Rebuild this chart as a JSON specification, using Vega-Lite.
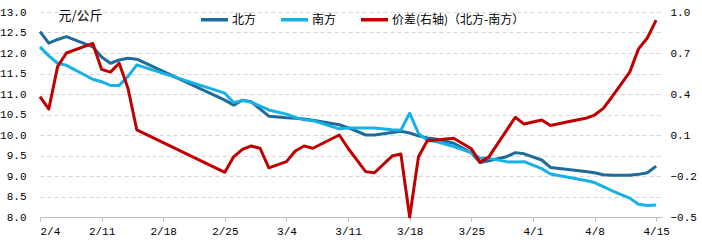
{
  "$schema": "https://vega.github.io/schema/vega-lite/v6.json",
  "width": 622,
  "height": 205,
  "autosize": "none",
  "padding": {"left": 40, "right": 40, "top": 12, "bottom": 33},
  "background": "white",
  "config": {
    "view": {"stroke": null},
    "font": "Noto Sans CJK SC"
  },
  "datasets": {
    "price": [
      {"date": "2025-02-04", "s": "北方", "v": 12.52},
      {"date": "2025-02-05", "s": "北方", "v": 12.24},
      {"date": "2025-02-06", "s": "北方", "v": 12.33},
      {"date": "2025-02-07", "s": "北方", "v": 12.40},
      {"date": "2025-02-10", "s": "北方", "v": 12.15},
      {"date": "2025-02-11", "s": "北方", "v": 11.90},
      {"date": "2025-02-12", "s": "北方", "v": 11.75},
      {"date": "2025-02-13", "s": "北方", "v": 11.83},
      {"date": "2025-02-14", "s": "北方", "v": 11.87},
      {"date": "2025-02-15", "s": "北方", "v": 11.85},
      {"date": "2025-02-25", "s": "北方", "v": 10.85},
      {"date": "2025-02-26", "s": "北方", "v": 10.73},
      {"date": "2025-02-27", "s": "北方", "v": 10.85},
      {"date": "2025-02-28", "s": "北方", "v": 10.81},
      {"date": "2025-03-02", "s": "北方", "v": 10.46},
      {"date": "2025-03-04", "s": "北方", "v": 10.42},
      {"date": "2025-03-05", "s": "北方", "v": 10.41},
      {"date": "2025-03-06", "s": "北方", "v": 10.39},
      {"date": "2025-03-07", "s": "北方", "v": 10.36},
      {"date": "2025-03-10", "s": "北方", "v": 10.25},
      {"date": "2025-03-11", "s": "北方", "v": 10.18},
      {"date": "2025-03-13", "s": "北方", "v": 10.00},
      {"date": "2025-03-14", "s": "北方", "v": 10.00},
      {"date": "2025-03-16", "s": "北方", "v": 10.06},
      {"date": "2025-03-17", "s": "北方", "v": 10.09},
      {"date": "2025-03-18", "s": "北方", "v": 10.05},
      {"date": "2025-03-19", "s": "北方", "v": 9.98},
      {"date": "2025-03-20", "s": "北方", "v": 9.93},
      {"date": "2025-03-21", "s": "北方", "v": 9.90},
      {"date": "2025-03-23", "s": "北方", "v": 9.80},
      {"date": "2025-03-25", "s": "北方", "v": 9.57},
      {"date": "2025-03-26", "s": "北方", "v": 9.33},
      {"date": "2025-03-27", "s": "北方", "v": 9.37},
      {"date": "2025-03-29", "s": "北方", "v": 9.47},
      {"date": "2025-03-30", "s": "北方", "v": 9.57},
      {"date": "2025-03-31", "s": "北方", "v": 9.54},
      {"date": "2025-04-02", "s": "北方", "v": 9.39},
      {"date": "2025-04-03", "s": "北方", "v": 9.21},
      {"date": "2025-04-05", "s": "北方", "v": 9.16},
      {"date": "2025-04-07", "s": "北方", "v": 9.11},
      {"date": "2025-04-08", "s": "北方", "v": 9.08},
      {"date": "2025-04-09", "s": "北方", "v": 9.03},
      {"date": "2025-04-10", "s": "北方", "v": 9.02},
      {"date": "2025-04-12", "s": "北方", "v": 9.02},
      {"date": "2025-04-13", "s": "北方", "v": 9.04},
      {"date": "2025-04-14", "s": "北方", "v": 9.08},
      {"date": "2025-04-15", "s": "北方", "v": 9.24},

      {"date": "2025-02-04", "s": "南方", "v": 12.15},
      {"date": "2025-02-05", "s": "南方", "v": 11.93},
      {"date": "2025-02-06", "s": "南方", "v": 11.75},
      {"date": "2025-02-07", "s": "南方", "v": 11.70},
      {"date": "2025-02-10", "s": "南方", "v": 11.36},
      {"date": "2025-02-11", "s": "南方", "v": 11.30},
      {"date": "2025-02-12", "s": "南方", "v": 11.21},
      {"date": "2025-02-13", "s": "南方", "v": 11.21},
      {"date": "2025-02-14", "s": "南方", "v": 11.43},
      {"date": "2025-02-15", "s": "南方", "v": 11.71},
      {"date": "2025-02-25", "s": "南方", "v": 11.02},
      {"date": "2025-02-26", "s": "南方", "v": 10.79},
      {"date": "2025-02-27", "s": "南方", "v": 10.84},
      {"date": "2025-02-28", "s": "南方", "v": 10.80},
      {"date": "2025-03-02", "s": "南方", "v": 10.61},
      {"date": "2025-03-04", "s": "南方", "v": 10.51},
      {"date": "2025-03-05", "s": "南方", "v": 10.43},
      {"date": "2025-03-06", "s": "南方", "v": 10.37},
      {"date": "2025-03-07", "s": "南方", "v": 10.35},
      {"date": "2025-03-10", "s": "南方", "v": 10.15},
      {"date": "2025-03-11", "s": "南方", "v": 10.17},
      {"date": "2025-03-13", "s": "南方", "v": 10.17},
      {"date": "2025-03-14", "s": "南方", "v": 10.17},
      {"date": "2025-03-16", "s": "南方", "v": 10.13},
      {"date": "2025-03-17", "s": "南方", "v": 10.12},
      {"date": "2025-03-18", "s": "南方", "v": 10.53},
      {"date": "2025-03-19", "s": "南方", "v": 10.04},
      {"date": "2025-03-20", "s": "南方", "v": 9.87},
      {"date": "2025-03-21", "s": "南方", "v": 9.84},
      {"date": "2025-03-23", "s": "南方", "v": 9.72},
      {"date": "2025-03-25", "s": "南方", "v": 9.57},
      {"date": "2025-03-26", "s": "南方", "v": 9.43},
      {"date": "2025-03-27", "s": "南方", "v": 9.43},
      {"date": "2025-03-29", "s": "南方", "v": 9.35},
      {"date": "2025-03-30", "s": "南方", "v": 9.34},
      {"date": "2025-03-31", "s": "南方", "v": 9.35},
      {"date": "2025-04-02", "s": "南方", "v": 9.18},
      {"date": "2025-04-03", "s": "南方", "v": 9.05},
      {"date": "2025-04-05", "s": "南方", "v": 8.97},
      {"date": "2025-04-07", "s": "南方", "v": 8.89},
      {"date": "2025-04-08", "s": "南方", "v": 8.84},
      {"date": "2025-04-09", "s": "南方", "v": 8.74},
      {"date": "2025-04-10", "s": "南方", "v": 8.64},
      {"date": "2025-04-12", "s": "南方", "v": 8.46},
      {"date": "2025-04-13", "s": "南方", "v": 8.31},
      {"date": "2025-04-14", "s": "南方", "v": 8.28},
      {"date": "2025-04-15", "s": "南方", "v": 8.29}
    ],
    "diff": [
      {"date": "2025-02-04", "s": "价差(右轴)（北方-南方）", "v": 0.38},
      {"date": "2025-02-05", "s": "价差(右轴)（北方-南方）", "v": 0.29},
      {"date": "2025-02-06", "s": "价差(右轴)（北方-南方）", "v": 0.60},
      {"date": "2025-02-07", "s": "价差(右轴)（北方-南方）", "v": 0.70},
      {"date": "2025-02-10", "s": "价差(右轴)（北方-南方）", "v": 0.77},
      {"date": "2025-02-11", "s": "价差(右轴)（北方-南方）", "v": 0.58},
      {"date": "2025-02-12", "s": "价差(右轴)（北方-南方）", "v": 0.56},
      {"date": "2025-02-13", "s": "价差(右轴)（北方-南方）", "v": 0.625},
      {"date": "2025-02-14", "s": "价差(右轴)（北方-南方）", "v": 0.44},
      {"date": "2025-02-15", "s": "价差(右轴)（北方-南方）", "v": 0.137},
      {"date": "2025-02-25", "s": "价差(右轴)（北方-南方）", "v": -0.173},
      {"date": "2025-02-26", "s": "价差(右轴)（北方-南方）", "v": -0.06},
      {"date": "2025-02-27", "s": "价差(右轴)（北方-南方）", "v": -0.005},
      {"date": "2025-02-28", "s": "价差(右轴)（北方-南方）", "v": 0.02},
      {"date": "2025-03-01", "s": "价差(右轴)（北方-南方）", "v": 0.003},
      {"date": "2025-03-02", "s": "价差(右轴)（北方-南方）", "v": -0.14},
      {"date": "2025-03-04", "s": "价差(右轴)（北方-南方）", "v": -0.095},
      {"date": "2025-03-05", "s": "价差(右轴)（北方-南方）", "v": -0.017},
      {"date": "2025-03-06", "s": "价差(右轴)（北方-南方）", "v": 0.02},
      {"date": "2025-03-07", "s": "价差(右轴)（北方-南方）", "v": 0.003},
      {"date": "2025-03-10", "s": "价差(右轴)（北方-南方）", "v": 0.10},
      {"date": "2025-03-11", "s": "价差(右轴)（北方-南方）", "v": 0.003},
      {"date": "2025-03-13", "s": "价差(右轴)（北方-南方）", "v": -0.168},
      {"date": "2025-03-14", "s": "价差(右轴)（北方-南方）", "v": -0.176},
      {"date": "2025-03-16", "s": "价差(右轴)（北方-南方）", "v": -0.054},
      {"date": "2025-03-17", "s": "价差(右轴)（北方-南方）", "v": -0.039},
      {"date": "2025-03-18", "s": "价差(右轴)（北方-南方）", "v": -0.50},
      {"date": "2025-03-19", "s": "价差(右轴)（北方-南方）", "v": -0.059},
      {"date": "2025-03-20", "s": "价差(右轴)（北方-南方）", "v": 0.058},
      {"date": "2025-03-21", "s": "价差(右轴)（北方-南方）", "v": 0.063},
      {"date": "2025-03-23", "s": "价差(右轴)（北方-南方）", "v": 0.076},
      {"date": "2025-03-25", "s": "价差(右轴)（北方-南方）", "v": 0.0},
      {"date": "2025-03-26", "s": "价差(右轴)（北方-南方）", "v": -0.10},
      {"date": "2025-03-27", "s": "价差(右轴)（北方-南方）", "v": -0.06},
      {"date": "2025-03-30", "s": "价差(右轴)（北方-南方）", "v": 0.23},
      {"date": "2025-03-31", "s": "价差(右轴)（北方-南方）", "v": 0.18},
      {"date": "2025-04-02", "s": "价差(右轴)（北方-南方）", "v": 0.21},
      {"date": "2025-04-03", "s": "价差(右轴)（北方-南方）", "v": 0.17},
      {"date": "2025-04-05", "s": "价差(右轴)（北方-南方）", "v": 0.197},
      {"date": "2025-04-07", "s": "价差(右轴)（北方-南方）", "v": 0.222},
      {"date": "2025-04-08", "s": "价差(右轴)（北方-南方）", "v": 0.246},
      {"date": "2025-04-09", "s": "价差(右轴)（北方-南方）", "v": 0.295},
      {"date": "2025-04-10", "s": "价差(右轴)（北方-南方）", "v": 0.38},
      {"date": "2025-04-12", "s": "价差(右轴)（北方-南方）", "v": 0.56},
      {"date": "2025-04-13", "s": "价差(右轴)（北方-南方）", "v": 0.73},
      {"date": "2025-04-14", "s": "价差(右轴)（北方-南方）", "v": 0.81},
      {"date": "2025-04-15", "s": "价差(右轴)（北方-南方）", "v": 0.94}
    ]
  },
  "encoding": {
    "x": {
      "field": "date",
      "type": "temporal",
      "scale": {
        "type": "utc",
        "domain": [
          {"year": 2025, "month": 2, "date": 4, "utc": true},
          {"year": 2025, "month": 4, "date": 15, "hours": 16, "utc": true}
        ]
      },
      "axis": {
        "title": null,
        "grid": false,
        "format": "%-m/%-d",
        "values": [
          {"year": 2025, "month": 2, "date": 4, "utc": true},
          {"year": 2025, "month": 2, "date": 11, "utc": true},
          {"year": 2025, "month": 2, "date": 18, "utc": true},
          {"year": 2025, "month": 2, "date": 25, "utc": true},
          {"year": 2025, "month": 3, "date": 4, "utc": true},
          {"year": 2025, "month": 3, "date": 11, "utc": true},
          {"year": 2025, "month": 3, "date": 18, "utc": true},
          {"year": 2025, "month": 3, "date": 25, "utc": true},
          {"year": 2025, "month": 4, "date": 1, "utc": true},
          {"year": 2025, "month": 4, "date": 8, "utc": true},
          {"year": 2025, "month": 4, "date": 15, "utc": true}
        ],
        "domainColor": "#BFBFBF",
        "tickColor": "#BFBFBF",
        "tickSize": 4,
        "labelFont": "Liberation Mono",
        "labelFontSize": 11,
        "labelColor": "#000000",
        "labelPadding": 4,
        "labelOverlap": false
      }
    },
    "color": {
      "field": "s",
      "type": "nominal",
      "scale": {
        "domain": ["北方", "南方", "价差(右轴)（北方-南方）"],
        "range": ["#1F6B9A", "#17B1E6", "#C00000"]
      },
      "legend": {
        "title": null,
        "orient": "none",
        "direction": "horizontal",
        "legendX": 159,
        "legendY": -8,
        "symbolType": "stroke",
        "symbolSize": 729,
        "symbolStrokeWidth": 3.5,
        "labelFont": "Noto Sans CJK SC",
        "labelFontSize": 12,
        "labelColor": "#000000",
        "labelOffset": 2,
        "columnPadding": 17
      }
    }
  },
  "layer": [
    {
      "data": {"name": "price"},
      "mark": {"type": "line", "strokeWidth": 3, "strokeJoin": "round"},
      "encoding": {
        "y": {
          "field": "v",
          "type": "quantitative",
          "scale": {"domain": [8, 13], "nice": false, "zero": false},
          "axis": {
            "orient": "left",
            "values": [8, 8.5, 9, 9.5, 10, 10.5, 11, 11.5, 12, 12.5, 13],
            "format": ".1f",
            "title": "元/公斤",
            "titleAngle": 0,
            "titleAlign": "left",
            "titleBaseline": "middle",
            "titleX": 18,
            "titleY": 3,
            "titleFont": "Noto Sans CJK SC",
            "titleFontSize": 13,
            "titleFontWeight": "normal",
            "titleColor": "#000000",
            "domain": false,
            "ticks": false,
            "grid": true,
            "gridColor": "#D4D4D4",
            "gridDash": [4, 3],
            "labelFont": "Liberation Mono",
            "labelFontSize": 11,
            "labelColor": "#000000",
            "labelPadding": 14
          }
        }
      }
    },
    {
      "data": {"name": "diff"},
      "mark": {"type": "line", "strokeWidth": 3, "strokeJoin": "round"},
      "encoding": {
        "y": {
          "field": "v",
          "type": "quantitative",
          "scale": {"domain": [-0.5, 1.0], "nice": false, "zero": false},
          "axis": {
            "orient": "right",
            "values": [-0.5, -0.2, 0.1, 0.4, 0.7, 1.0],
            "format": ".1f",
            "title": null,
            "domain": false,
            "ticks": false,
            "grid": false,
            "labelFont": "Liberation Mono",
            "labelFontSize": 11,
            "labelColor": "#000000",
            "labelPadding": 8
          }
        }
      }
    }
  ],
  "resolve": {"scale": {"y": "independent"}}
}
